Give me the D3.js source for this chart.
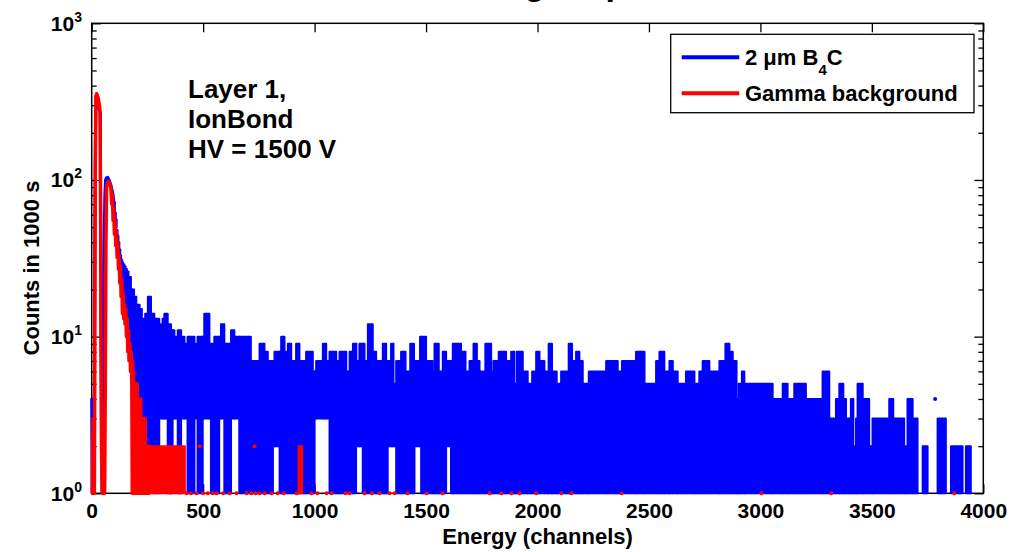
<!DOCTYPE html>
<html>
<head>
<meta charset="utf-8">
<script src="https://cdn.jsdelivr.net/npm/d3@7/dist/d3.min.js"></script>
<style>
  body { margin: 0; background: #fff; }
  text { font-family: "Liberation Sans", Arial, sans-serif; font-weight: bold; }
</style>
</head>
<body>
<svg id="chart" width="1021" height="552"></svg>
<script>
// --- data ----------------------------------------------------------------
// axis ticks / labels
const xTicks = [0, 500, 1000, 1500, 2000, 2500, 3000, 3500, 4000];
const yDecades = [1, 10, 100, 1000];
const yExponents = ["0", "1", "2", "3"];
const legendLabels = ["2 \u03bcm B_4C", "Gamma background"];
const noteLines = ["Layer 1,", "IonBond", "HV = 1500 V"];

// 2 um B4C, low-energy part as a line: [channel, counts]
const blueLine = [
  [0,4],[2,1],[4,4],[6,1],[8,4],[10,1],[12,4],[14,40],[17,200],[19,340],[23,330],
  [27,300],[31,290],[35,280],[39,270],[42,10],[44,2],[47,1],[50,2],[53,10],[56,40],
  [59,80],[62,100],[66,103],[72,104],[78,100],[84,95],[90,88],[96,80],[100,72]
];
// 2 um B4C, dense part: upper envelope per channel range [start channel, max counts]
const blueEnvelope = [
  [100,72],[104,62],[108,56],[112,48],[116,44],[120,40],[124,36],[128,33],[132,31],
  [136,30],[140,29],[146,28],[152,27],[158,26],[165,24],[176,20],[190,18],[200,16],
  [215,15],[225,13],[240,14],[252,18],[266,14],[281,13],[303,12],[318,13],[326,14],
  [341,12],[356,11],[371,10],[386,11],[401,10],[416,9],
  [430,10],[445,10],[461,9],[475,10],[505,14],[528,9],[550,10],[580,12],[595,9],
  [610,9],[625,11],[640,10],[714,7],[753,9],[775,8],[790,7],[820,8],[850,10],
  [865,8],[880,9],[895,7],[917,9],[932,7],[962,8],[992,6],[1007,7],[1037,9],
  [1052,7],[1067,8],[1097,7],[1112,8],[1142,6],[1157,8],[1172,9],[1187,7],[1201,9],
  [1224,7],[1239,12],[1261,8],[1276,7],[1306,9],[1321,7],[1343,9],[1354,5],
  [1366,7],[1388,8],[1408,6],[1429,9],[1446,7],[1473,10],[1500,7],[1530,6],[1538,9],
  [1557,6],[1575,8],[1590,7],[1620,9],[1657,8],[1677,6],[1695,7],[1713,9],[1728,7],
  [1740,6],[1766,9],[1792,6],[1802,7],[1826,8],[1859,7],[1882,8],[1896,5],[1907,8],
  [1934,6],[1956,5],[1976,6],[1994,8],[2009,7],[2031,6],[2050,9],[2065,6],[2086,5],
  [2106,6],[2140,9],[2155,7],[2173,8],[2188,7],[2203,5],[2230,6],[2308,7],[2360,6],
  [2379,7],[2442,8],[2480,5],[2532,7],[2547,8],[2569,6],[2592,7],[2607,6],[2629,5],
  [2666,6],[2704,5],[2726,6],[2741,7],[2771,6],[2816,7],[2843,9],[2861,8],[2876,7],
  [2893,4],[2902,5],[2917,6],[2928,5],[3055,4],[3100,5],[3122,4],[3152,5],[3204,4],
  [3279,6],[3309,3],[3339,4],[3354,5],[3372,4],[3384,3],[3406,4],[3417,2],[3429,3],
  [3436,5],[3459,4],[3488,2],[3503,3],[3578,4],[3596,3],[3645,2],[3660,4],[3683,3],
  [3705,1],[3728,2],[3750,1],[3795,3],[3832,1],[3855,2],[3907,1],[3922,2],[3944,1]
];
// 2 um B4C, lowest non-zero count per channel range [start channel, min counts]
const blueFloor = [
  [100,62],[106,50],[112,40],[118,33],[124,27],[130,21],[136,17],[142,13],[148,12],
  [154,10],[160,8],[166,7],[172,6],[178,5],[184,4],[192,3],[251,2],[281,1],[303,3],
  [341,1],[363,3],[386,1],[401,3],[430,1],[461,3],[475,1],[498,3],[535,1],[572,3],
  [595,1],[625,3],[662,1],[813,2],[843,1],[1000,3],[1067,1],[1186,2],[1216,1],
  [1328,2],[1366,1],[1448,2],[1478,1],[1590,2],[1612,1]
];
const blueDots = [[3784,4]];

// Gamma background line: [channel, counts], 0 = empty channel
const gammaLine = [
  [3,1],[6,3],[9,1],[12,1],[14,8],[16,120],[19,340],[22,355],[26,345],[30,330],
  [34,300],[37,280],[40,60],[42,8],[44,2],[47,1],[50,2],[53,1],[56,1],[58,1],
  [61,5],[64,40],[67,90],[71,97],[76,98],[81,95],[86,90],[90,70],[93,80],[96,55],
  [99,66],[102,45],[105,55],[108,38],[111,46],[114,32],[117,40],[120,27],[123,33],
  [126,22],[129,28],[132,18],[135,23],[138,14],[141,19],[144,13],[147,16],[150,12],
  [153,15],[156,10],[159,13],[162,8],[165,11],[168,7],[171,9],[174,6],[177,8],
  [180,5],[182,1],[184,7],[186,1],[188,6],[190,1],[192,5],[194,2],[196,5],[198,1],
  [200,4],[202,1],[204,5],[206,2],[208,4],[210,1],[212,4],[214,1],[216,3],[218,1],
  [220,4],[222,1],[224,3],[226,2],[228,3],[230,1],[232,3],[234,1],[236,2],[238,1],
  [240,3],[242,1],[244,2],[246,1],[248,2],[250,1],[252,2],[254,1],[256,2],[258,1],
  [260,0]
];
// channel ranges where the background toggles between 1 and 2 counts: [from, to, max]
const gammaBlocks = [[262,294,2],[300,348,2],[352,366,2],[370,418,2],[928,944,2]];
// isolated background counts: [channel, counts]
const gammaDots = [
  [426,1],[445,1],[470,1],[484,2],[500,1],[521,1],[543,1],[560,1],[590,1],[619,1],
  [650,1],[695,1],[717,1],[731,2],[735,1],[753,1],[776,1],[807,1],[834,1],[861,1],
  [919,1],[986,1],[1013,1],[1054,1],[1076,1],[1139,1],[1157,1],[1224,1],[1256,1],
  [1291,1],[1336,1],[1359,1],[1417,1],[1502,1],[1574,1],[1785,1],[1838,1],[1883,1],
  [1919,1],[1995,1],[2107,1],[2152,1],[2377,1],[3004,1],[3318,1],[3870,1]
];

const blue = "#0000ff";
const red = "#ff0000";

// --- scales -----------------------------------------------------------------
const svg = d3.select("#chart");
const x = d3.scaleLinear().domain([0, 4000]).range([91.7, 983.3]);
const y = d3.scaleLog().domain([1, 1000]).range([493.3, 23.3]);

// --- axes (drawn under the data, like the original) ------------------------
const axisG = svg.append("g");
const minorVals = [];
yDecades.slice(0, 3).forEach(d => { for (let k = 2; k < 10; k++) minorVals.push(d * k); });

function styleAxis(g) {
  g.select(".domain").remove();
  g.selectAll("line").attr("stroke-width", 1.3);
}

axisG.append("g")
  .attr("transform", `translate(0,${y(1)})`)
  .call(d3.axisBottom(x).tickValues(xTicks).tickSizeInner(-9).tickSizeOuter(0)
    .tickPadding(10).tickFormat(d3.format("d")))
  .call(styleAxis)
  .call(g => g.selectAll("text").attr("font-size", 21)
    .attr("font-family", "Liberation Sans, Arial, sans-serif").attr("fill", "#000"));

axisG.append("g")
  .attr("transform", `translate(0,${y(1000)})`)
  .call(d3.axisTop(x).tickValues(xTicks).tickSizeInner(-9).tickSizeOuter(0).tickFormat(() => ""))
  .call(styleAxis);

[[d3.axisLeft, x(0)], [d3.axisRight, x(4000)]].forEach(([ax, pos]) => {
  axisG.append("g").attr("transform", `translate(${pos},0)`)
    .call(ax(y).tickValues(yDecades).tickSizeInner(-9).tickSizeOuter(0).tickFormat(() => ""))
    .call(styleAxis);
  axisG.append("g").attr("transform", `translate(${pos},0)`)
    .call(ax(y).tickValues(minorVals).tickSizeInner(-5).tickSizeOuter(0).tickFormat(() => ""))
    .call(styleAxis);
});

axisG.append("rect")
  .attr("x", x(0)).attr("y", y(1000))
  .attr("width", x(4000) - x(0)).attr("height", y(1) - y(1000))
  .attr("fill", "none").attr("stroke", "#000").attr("stroke-width", 1.5);

yDecades.forEach((d, i) => {
  const t = axisG.append("text")
    .attr("x", 82).attr("y", y(d) + 7.5)
    .attr("text-anchor", "end").attr("font-size", 21);
  t.append("tspan").text("10");
  t.append("tspan").attr("font-size", 14).attr("dy", -9).text(yExponents[i]);
});

// --- data -------------------------------------------------------------------
const line = d3.line()
  .defined(d => d[1] > 0)
  .x(d => x(d[0]))
  .y(d => y(d[1]));

const dataG = svg.append("g");

// lookup helper for the step tables
function stepValue(table, c) {
  let v = table[0][1];
  for (const [start, val] of table) { if (start <= c) v = val; else break; }
  return v;
}
const edges = Array.from(new Set(blueEnvelope.map(d => d[0]).concat(blueFloor.map(d => d[0]))))
  .sort((a, b) => a - b);
const blueBins = edges.map((c, i) => ({
  c0: c,
  c1: i < edges.length - 1 ? edges[i + 1] : 4000,
  hi: stepValue(blueEnvelope, c),
  lo: Math.min(stepValue(blueFloor, c), stepValue(blueEnvelope, c))
}));

dataG.append("path")
  .datum(blueLine)
  .attr("d", line)
  .attr("fill", "none").attr("stroke", blue)
  .attr("stroke-width", 3).attr("stroke-linejoin", "round").attr("stroke-linecap", "round");

dataG.append("g").selectAll("rect")
  .data(blueBins)
  .enter().append("rect")
  .attr("x", d => x(d.c0))
  .attr("width", d => x(d.c1) - x(d.c0))
  .attr("y", d => y(d.hi))
  .attr("height", d => y(d.lo) - y(d.hi))
  .attr("fill", blue).attr("stroke", blue)
  .attr("stroke-width", 2).attr("stroke-linejoin", "round");

dataG.append("g").selectAll("circle")
  .data(blueDots)
  .enter().append("circle")
  .attr("cx", d => x(d[0])).attr("cy", d => y(d[1])).attr("r", 2)
  .attr("fill", blue);

dataG.append("path")
  .datum(gammaLine)
  .attr("d", line)
  .attr("fill", "none").attr("stroke", red)
  .attr("stroke-width", 3.5).attr("stroke-linejoin", "round").attr("stroke-linecap", "round");

dataG.append("g").selectAll("rect")
  .data(gammaBlocks)
  .enter().append("rect")
  .attr("x", d => x(d[0]))
  .attr("width", d => x(d[1]) - x(d[0]))
  .attr("y", d => y(d[2]))
  .attr("height", d => y(1) - y(d[2]))
  .attr("fill", red).attr("stroke", red)
  .attr("stroke-width", 2).attr("stroke-linejoin", "round");

dataG.append("g").selectAll("circle")
  .data(gammaDots)
  .enter().append("circle")
  .attr("cx", d => x(d[0])).attr("cy", d => y(d[1])).attr("r", 2)
  .attr("fill", red);

// --- legend -------------------------------------------------------------------
const legend = svg.append("g");
legend.append("rect")
  .attr("x", 670.7).attr("y", 34.3).attr("width", 303.3).attr("height", 78.4)
  .attr("fill", "#fff").attr("stroke", "#000").attr("stroke-width", 1.3);

const legendColors = [blue, red];
legendLabels.forEach((label, i) => {
  const ly = 57.3 + i * 36;
  legend.append("line")
    .attr("x1", 681.7).attr("x2", 739.3).attr("y1", ly).attr("y2", ly)
    .attr("stroke", legendColors[i]).attr("stroke-width", 4);
  const t = legend.append("text")
    .attr("x", 745).attr("y", ly + 7.5).attr("font-size", 22);
  const parts = label.split(/_(\d)/);
  parts.forEach((p, j) => {
    if (j % 2 === 1) {
      t.append("tspan").attr("font-size", 15).attr("dy", 10).text(p);
    } else if (j > 0) {
      t.append("tspan").attr("dy", -10).text(p);
    } else {
      t.append("tspan").text(p);
    }
  });
});

// --- texts --------------------------------------------------------------------
noteLines.forEach((s, i) => {
  svg.append("text")
    .attr("x", 188).attr("y", 98.3 + i * 30)
    .attr("font-size", 26)
    .text(s);
});

svg.append("text")
  .attr("x", (x(0) + x(4000)) / 2).attr("y", 544)
  .attr("text-anchor", "middle").attr("font-size", 22)
  .text("Energy (channels)");

svg.append("text")
  .attr("transform", "translate(38.5,268) rotate(-90)")
  .attr("text-anchor", "middle").attr("font-size", 22)
  .text("Counts in 1000 s");

// title, almost entirely above the visible area (only descenders show)
svg.append("text")
  .attr("x", 375).attr("y", -5)
  .attr("font-size", 34)
  .text("Pulse height spectrum");
</script>
</body>
</html>
